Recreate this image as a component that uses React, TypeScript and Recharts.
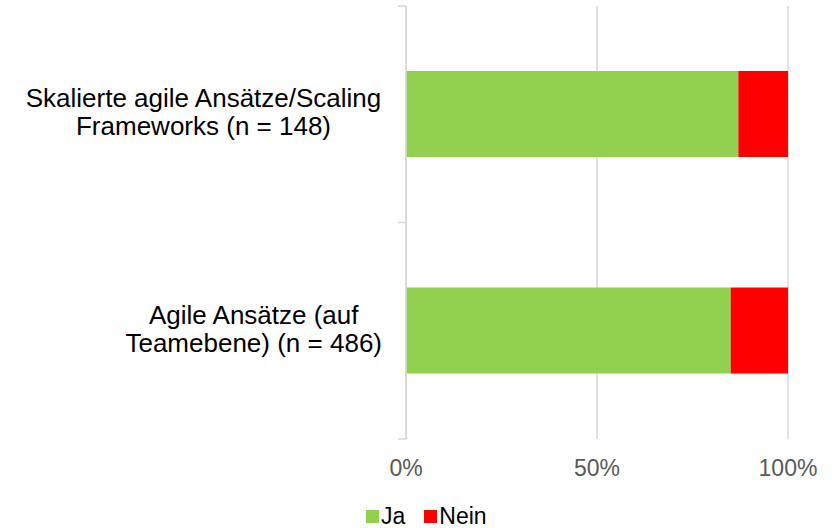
import { Bar, BarChart, CartesianGrid, Legend, XAxis, YAxis } from "recharts";

const categories = [
  ["Skalierte agile Ansätze/Scaling", "Frameworks (n = 148)"],
  ["Agile Ansätze (auf", "Teamebene) (n = 486)"],
];
const jaValues = [87, 85];
const neinValues = [13, 15];
const xTicks = [0, 50, 100];
const seriesNames = ["Ja", "Nein"];
const seriesColors = ["#92d050", "#ff0000"];

const data = categories.map((lines, i) => ({
  name: lines.join(" "),
  Ja: jaValues[i],
  Nein: neinValues[i],
}));

const FONT = "'Liberation Sans', Arial, sans-serif";
const GRID = "#d9d9d9";
const LABEL_SIZE = 26;
const TICK_GAP = 24;

let ctx: CanvasRenderingContext2D | null = null;
function textWidth(s: string, size: number) {
  if (!ctx) ctx = document.createElement("canvas").getContext("2d");
  if (!ctx) return s.length * size * 0.5;
  ctx.font = `${size}px 'Liberation Sans', Arial`;
  return ctx.measureText(s).width;
}

function CategoryTick({ x, y, index, payload }: any) {
  const lines = categories[index] || [];
  const blockWidth = Math.max(...lines.map((l) => textWidth(l, LABEL_SIZE)));
  const cx = x - blockWidth / 2;
  const half = payload && payload.offset ? payload.offset : 108;
  const axisX = x + TICK_GAP;
  const marks = [y - half];
  if (index === categories.length - 1) marks.push(y + half);
  return (
    <g>
      {marks.map((my) => (
        <line key={my} x1={axisX - 8} x2={axisX} y1={my} y2={my} stroke={GRID} strokeWidth={1.5} />
      ))}
      {lines.map((line, i) => (
        <text
          key={line}
          x={cx}
          y={y - 7 + i * 28}
          textAnchor="middle"
          fontSize={LABEL_SIZE}
          fontFamily={FONT}
          fill="#000"
        >
          {line}
        </text>
      ))}
    </g>
  );
}

function LegendContent() {
  return (
    <div
      style={{
        height: 28,
        paddingTop: 4,
        boxSizing: "border-box",
        display: "flex",
        alignItems: "center",
        paddingLeft: 366,
        fontFamily: FONT,
        fontSize: 23,
        color: "#000",
      }}
    >
      {seriesNames.map((name, i) => (
        <span key={name} style={{ display: "flex", alignItems: "center", marginRight: 19 }}>
          <span
            style={{
              width: 13,
              height: 13,
              background: seriesColors[i],
              display: "inline-block",
              marginRight: 2,
            }}
          />
          {name}
        </span>
      ))}
    </div>
  );
}

export default function App() {
  return (
    <div style={{ width: 832, height: 528, background: "#fff" }}>
      <style>{"body{margin:0}"}</style>
      <BarChart
        width={832}
        height={528}
        data={data}
        layout="vertical"
        margin={{ top: 6, right: 44, bottom: 0, left: 0 }}
      >
        <CartesianGrid horizontal={false} stroke={GRID} strokeWidth={1.5} />
        <YAxis
          type="category"
          dataKey="name"
          width={406}
          axisLine={{ stroke: GRID, strokeWidth: 1.5 }}
          tickLine={false}
          tickSize={0}
          tickMargin={TICK_GAP}
          tick={<CategoryTick />}
        />
        <XAxis
          type="number"
          domain={[0, 100]}
          ticks={xTicks}
          tickFormatter={(v: number) => `${v}%`}
          axisLine={false}
          tickLine={false}
          tickSize={0}
          tickMargin={21}
          height={61}
          tick={{ fill: "#595959", fontSize: 23, fontFamily: FONT }}
        />
        <Legend verticalAlign="bottom" content={<LegendContent />} />
        <Bar dataKey="Ja" stackId="a" fill={seriesColors[0]} barSize={86} isAnimationActive={false} />
        <Bar dataKey="Nein" stackId="a" fill={seriesColors[1]} barSize={86} isAnimationActive={false} />
      </BarChart>
    </div>
  );
}
